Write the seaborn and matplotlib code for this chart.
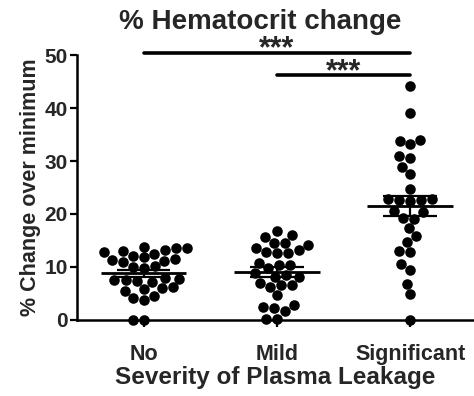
import numpy as np
import pandas as pd
import matplotlib
matplotlib.use("Agg")
import matplotlib.pyplot as plt
import seaborn as sns

categories = ["No", "Mild", "Significant"]
no_values = [13.8, 13.5, 13.2, 13.6, 12.8, 13.0, 12.5,
             11.5, 11.8, 11.2, 11.0, 12.0, 11.4,
             10.0, 10.2, 9.8,
             7.8, 7.5, 7.6, 7.3, 7.9, 7.2,
             6.0, 5.8, 6.2, 5.5,
             4.6, 4.2, 3.8,
             0.0, 0.0]
mild_values = [16.7, 15.7, 16.0,
               14.5, 13.6, 14.2, 14.5,
               12.6, 12.9, 13.2, 12.6,
               10.4, 10.7, 10.4, 9.8,
               8.2, 8.5, 8.2, 8.8,
               6.6, 6.3, 6.6, 7.0,
               4.7,
               2.8, 2.5, 1.6, 2.3,
               0.2, 0.2]
sig_values = [44.2, 39.1, 34.0, 33.2, 33.8, 30.6, 30.9, 28.9, 27.5, 24.8,
              22.8, 22.6, 22.5, 22.9, 22.7,
              20.5, 20.3, 19.2, 19.1,
              17.3, 15.8, 14.8, 13.1, 12.9, 10.6, 9.4, 6.8, 4.9, 0.0]
y_ticks = [0, 10, 20, 30, 40, 50]
sig_pairs = [("No", "Significant", 50.4, "***"), ("Mild", "Significant", 46.2, "***")]

title = "% Hematocrit change"
xlabel = "Severity of Plasma Leakage"
ylabel = "% Change over minimum"

df = pd.DataFrame({
    "group": ["No"] * len(no_values) + ["Mild"] * len(mild_values) + ["Significant"] * len(sig_values),
    "value": no_values + mild_values + sig_values,
})

sns.set_theme(style="ticks")
plt.rcParams["font.family"] = ["Liberation Sans", "DejaVu Sans"]
plt.rcParams["font.weight"] = "bold"

fig = plt.figure(figsize=(4.74, 3.96), dpi=100)
ax = fig.add_axes([0.163, 0.192, 0.837, 0.669])

sns.swarmplot(data=df, x="group", y="value", order=categories, color="black",
              size=7.6, ax=ax, clip_on=False, zorder=3, warn_thresh=1.0)

stats = df.groupby("group")["value"].agg(["mean", "sem"]).reindex(categories)
for i, cat in enumerate(categories):
    m = stats.loc[cat, "mean"]
    s = stats.loc[cat, "sem"]
    ax.hlines(m, i - 0.32, i + 0.32, color="black", lw=2.0, zorder=4)
    ax.vlines(i, m - s, m + s, color="black", lw=1.6, zorder=4)
    ax.hlines([m - s, m + s], i - 0.2, i + 0.2, color="black", lw=1.6, zorder=4)

for a, b, y, txt in sig_pairs:
    xa, xb = categories.index(a), categories.index(b)
    ax.plot([xa, xb], [y, y], color="black", lw=2.6, clip_on=False, solid_capstyle="round")
    ax.text((xa + xb) / 2, y - 0.9, txt, ha="center", va="baseline", fontsize=22,
            fontweight="bold", clip_on=False)

ax.set_ylim(0, 50)
ax.set_xlim(-0.5, 2.48)
ax.set_yticks(y_ticks)
ax.set_xlabel(xlabel, fontsize=17.5, fontweight="bold", labelpad=1)
ax.set_ylabel(ylabel, fontsize=15.5, fontweight="bold", labelpad=2)
ax.tick_params(axis="y", labelsize=15, width=1.6, length=5, color="black", pad=2)
ax.tick_params(axis="x", labelsize=15.5, width=1.6, length=5, color="black", pad=12)
for lab in ax.get_xticklabels() + ax.get_yticklabels():
    lab.set_fontweight("bold")
sns.despine(ax=ax)
for sp in ["left", "bottom"]:
    ax.spines[sp].set_linewidth(1.8)
    ax.spines[sp].set_color("black")

fig.text(0.549, 0.945, title, ha="center", va="center", fontsize=20, fontweight="bold")

fig.savefig("out.png", dpi=100)
